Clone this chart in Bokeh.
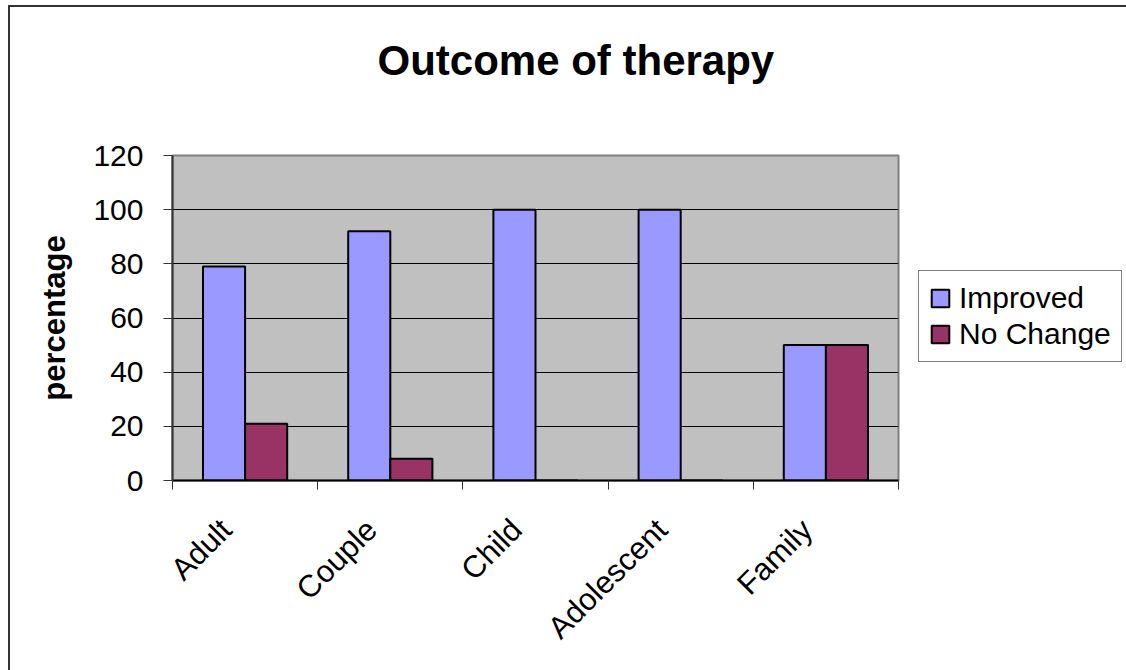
from bokeh.plotting import figure
from bokeh.models import (ColumnDataSource, FixedTicker, Legend, LegendItem, Title)
from bokeh.embed import file_html
from bokeh.resources import INLINE
import math

categories = ["Adult", "Couple", "Child", "Adolescent", "Family"]
improved = [79, 92, 100, 100, 50]
no_change = [21, 8, 0, 0, 50]
y_ticks = [0, 20, 40, 60, 80, 100, 120]

FONT = "Liberation Sans"
bar_w = 0.29
label_shift = 0.13  # rotated labels sit slightly left of the category centre

centers = [i + 0.5 for i in range(len(categories))]
label_pos = [c - label_shift for c in centers]
src_imp = ColumnDataSource(dict(x=[c - bar_w / 2 for c in centers], top=improved))
src_no = ColumnDataSource(dict(x=[c + bar_w / 2 for c in centers], top=no_change))

p = figure(frame_width=726, frame_height=325, output_backend="svg", toolbar_location=None,
           x_range=(0, len(categories)), y_range=(0, 120),
           min_border_left=162, min_border_right=228, min_border_top=148,
           min_border_bottom=190)

p.styles = {"border-left": "2px solid #333333", "border-top": "2px solid #333333",
            "margin-left": "8px", "margin-top": "5px"}

p.background_fill_color = "#C0C0C0"
p.border_fill_color = "white"
p.outline_line_color = "#808080"
p.outline_line_width = 2

r1 = p.vbar(x="x", top="top", width=bar_w, source=src_imp,
            fill_color="#9999FF", line_color="black", line_width=2)
r2 = p.vbar(x="x", top="top", width=bar_w, source=src_no,
            fill_color="#993366", line_color="black", line_width=2)

# main title outermost, spacer title between it and the frame
p.title = Title(text="Outcome of therapy", align="left", offset=205,
                text_font=FONT, text_font_size="42px", text_font_style="bold",
                text_color="black", standoff=52)
p.add_layout(Title(text=" ", text_font=FONT, text_font_size="10px", standoff=33), "above")

# y axis
p.yaxis.ticker = FixedTicker(ticks=y_ticks)
p.yaxis.axis_label = "percentage"
p.yaxis.axis_label_text_font = FONT
p.yaxis.axis_label_text_font_size = "31px"
p.yaxis.axis_label_text_font_style = "bold"
p.yaxis.axis_label_text_color = "black"
p.yaxis.axis_label_standoff = 18
p.yaxis.major_label_text_font = FONT
p.yaxis.major_label_text_font_size = "30px"
p.yaxis.major_label_text_color = "black"
p.yaxis.major_label_standoff = 20
p.yaxis.major_tick_out = 9
p.yaxis.major_tick_in = 0
p.yaxis.minor_tick_out = 0
p.yaxis.minor_tick_in = 0
p.yaxis.axis_line_color = "#333333"
p.yaxis.axis_line_width = 2
p.yaxis.major_tick_line_color = "#333333"

# x axis: labels near centres, ticks at boundaries
p.xaxis.ticker = FixedTicker(ticks=label_pos, minor_ticks=list(range(len(categories) + 1)))
p.xaxis.major_label_overrides = {c: name for c, name in zip(label_pos, categories)}
p.xaxis.major_label_orientation = math.pi / 4
p.xaxis.major_label_text_font = FONT
p.xaxis.major_label_text_font_size = "31px"
p.xaxis.major_label_text_color = "black"
p.xaxis.major_label_standoff = 35
p.xaxis.major_tick_out = 0
p.xaxis.major_tick_in = 0
p.xaxis.minor_tick_out = 9
p.xaxis.minor_tick_in = 0
p.xaxis.minor_tick_line_color = "#333333"
p.xaxis.axis_line_color = "black"
p.xaxis.axis_line_width = 2

p.xgrid.grid_line_color = None
p.ygrid.grid_line_color = "black"
p.ygrid.grid_line_width = 1

legend = Legend(items=[LegendItem(label="Improved", renderers=[r1]),
                       LegendItem(label="No Change", renderers=[r2])],
                location=(20, 118))
legend.label_text_font = FONT
legend.label_text_font_size = "30px"
legend.label_text_color = "black"
legend.glyph_width = 22
legend.glyph_height = 22
legend.label_standoff = 8
legend.spacing = 2
legend.padding = 10
legend.margin = 0
legend.border_line_color = "black"
legend.border_line_width = 1
legend.background_fill_color = "white"
legend.background_fill_alpha = 1
p.add_layout(legend, "right")

open("out.html", "w").write(file_html(p, INLINE))
